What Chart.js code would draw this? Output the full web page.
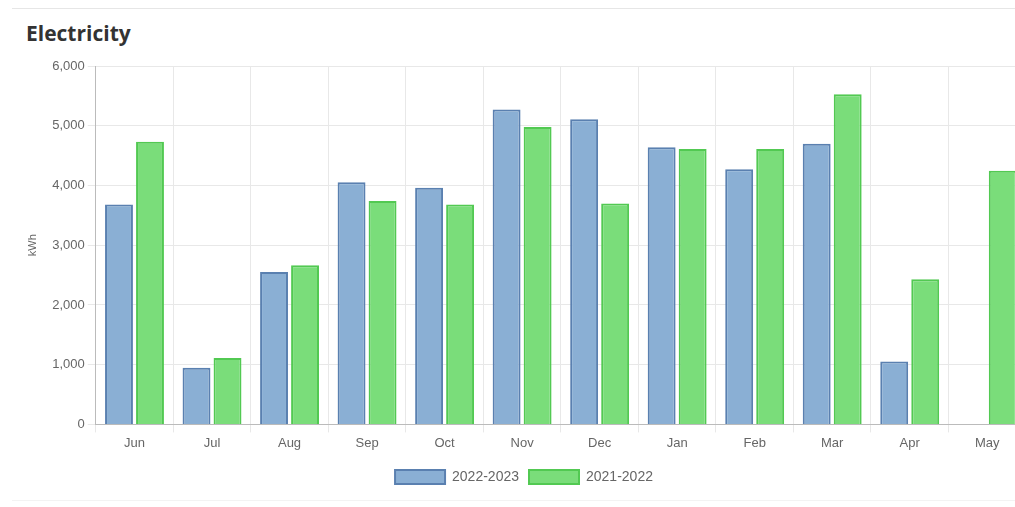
<!DOCTYPE html>
<html>
<head>
<meta charset="utf-8">
<script src="https://cdn.jsdelivr.net/npm/chart.js@4"></script>
<style>
  html, body { margin: 0; padding: 0; background: #fff; overflow: hidden; }
  body { width: 1015px; height: 507px; position: relative; }
  .topline { position: absolute; left: 12px; right: 0; top: 8px; border-top: 1px solid #e6e6e6; }
  .bottomline { position: absolute; left: 12px; right: 0; top: 500px; border-top: 1px solid #f3f3f3; }
  h2 { position: absolute; left: 26px; top: 19px; margin: 0; font: bold 21px "Open Sans", sans-serif; color: #333; }
  .wrap { position: absolute; left: 0; top: 48px; width: 1026px; height: 452px; }
</style>
</head>
<body>
<div class="topline"></div>
<h2>Electricity</h2>
<div class="wrap"><canvas id="chart"></canvas></div>
<div class="bottomline"></div>
<script>
/* ==========================
   Dados
   ========================== */
const MESES = ["Jun", "Jul", "Aug", "Sep", "Oct", "Nov", "Dec", "Jan", "Feb", "Mar", "Apr", "May"];
const SERIE_2022_2023 = [3680, 950, 2550, 4055, 3960, 5270, 5110, 4640, 4270, 4700, 1055, null];
const SERIE_2021_2022 = [4730, 1110, 2665, 3740, 3680, 4980, 3700, 4610, 4610, 5525, 2430, 4245];
const Y_MAX = 6000;
const Y_STEP = 1000;

const FONTE = "'Liberation Sans', Arial, sans-serif";
const TICK_FONT = { family: FONTE, size: 13 };

const ctx = document.getElementById("chart").getContext("2d");
const chart = new Chart(ctx, {
  type: "bar",
  data: {
    labels: MESES,
    datasets: [
      {
        label: "2022-2023",
        data: SERIE_2022_2023,
        backgroundColor: "#8aafd4",
        borderColor: "#5a80b0",
        borderWidth: 2,
      },
      {
        label: "2021-2022",
        data: SERIE_2021_2022,
        backgroundColor: "#7add7a",
        borderColor: "#52c952",
        borderWidth: 2,
      },
    ],
  },
  options: {
    responsive: true,
    maintainAspectRatio: false,
    animation: false,
    layout: { padding: { left: 22, top: 18, right: 0, bottom: 6 } },
    plugins: {
      legend: {
        position: "bottom",
        labels: {
          boxWidth: 50,
          boxHeight: 14,
          color: "#666",
          font: { family: FONTE, size: 14 },
          padding: 10,
        },
      },
      tooltip: { enabled: false },
    },
    scales: {
      x: {
        grid: { color: "#e8e8e8", tickLength: 8 },
        border: { color: "#bbb" },
        ticks: { color: "#666", font: TICK_FONT },
        // espaço extra entre os rótulos e a legenda
        afterFit: (scale) => { scale.height += 6; },
      },
      y: {
        min: 0,
        max: Y_MAX,
        grid: { color: "#e8e8e8", tickLength: 8 },
        border: { color: "#bbb" },
        ticks: { stepSize: Y_STEP, color: "#666", font: TICK_FONT },
        title: {
          display: true,
          text: "kWh",
          color: "#666",
          font: { family: FONTE, size: 11 },
          padding: { top: 4, bottom: 10 },
        },
      },
    },
  },
});
</script>
</body>
</html>
